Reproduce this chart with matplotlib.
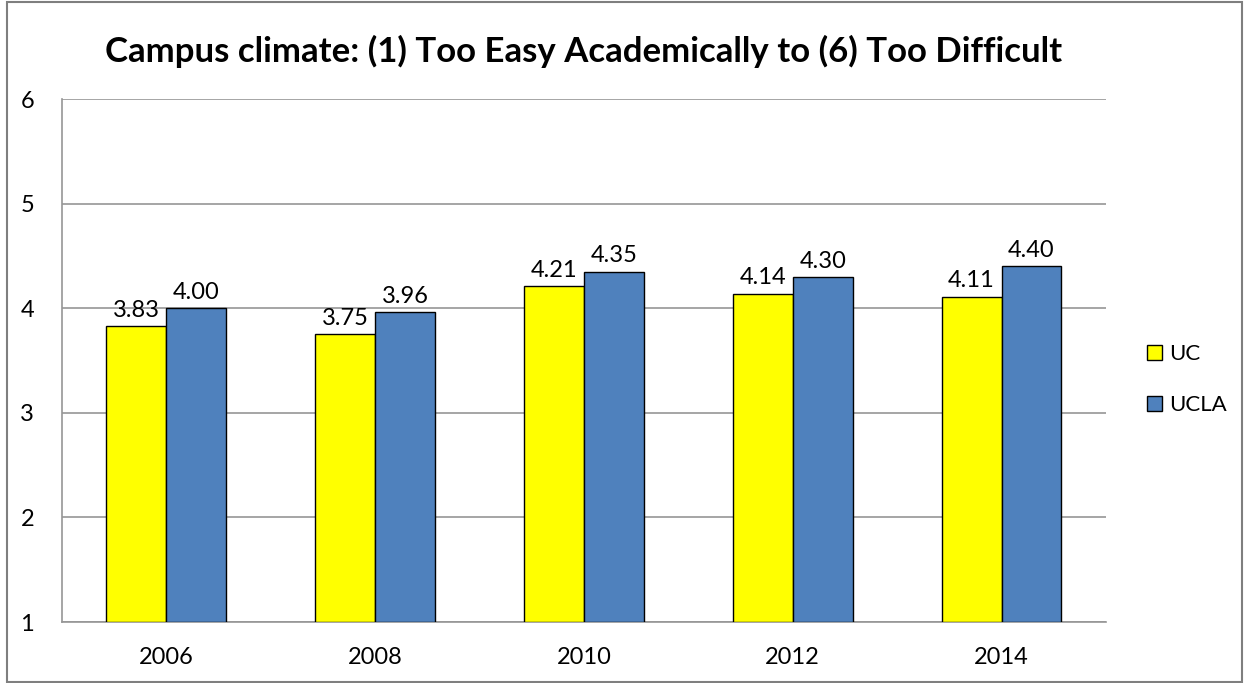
import matplotlib
matplotlib.use("Agg")
import matplotlib.pyplot as plt
import numpy as np
from matplotlib.patches import Rectangle

years = ["2006", "2008", "2010", "2012", "2014"]
uc = [3.83, 3.75, 4.21, 4.14, 4.11]
ucla = [4.00, 3.96, 4.35, 4.30, 4.40]
series = ["UC", "UCLA"]
colors = ["#FFFF00", "#4F81BD"]

plt.rcParams['font.family'] = ['Lato', 'DejaVu Sans']

fig = plt.figure(figsize=(12.44, 6.83), dpi=100)
ax = fig.add_axes([0.0498, 0.0893, 0.8392, 0.7657])

x = np.arange(len(years))
w = 0.287
bottom = 1
for vals, off, col, name in [(uc, -w / 2, colors[0], series[0]), (ucla, w / 2, colors[1], series[1])]:
    heights = [v - bottom for v in vals]
    ax.bar(x + off, heights, w, bottom=bottom, color=col, edgecolor="black",
           linewidth=1, label=name, zorder=3)
    for xi, v in zip(x + off, vals):
        ax.text(xi, v + 0.05, f"{v:.2f}", ha="center", va="bottom", fontsize=17)

ax.set_xlim(-0.5, len(years) - 0.5)
ax.set_ylim(1, 6)
ax.set_yticks(range(1, 7))
ax.set_xticks(x)
ax.set_xticklabels(years)
ax.tick_params(axis="both", length=0, labelsize=17)
ax.tick_params(axis="x", pad=18)
ax.tick_params(axis="y", pad=20)
ax.yaxis.grid(True, color="#969696", linewidth=1.2, zorder=0)
for s in ["top", "right"]:
    ax.spines[s].set_visible(False)
for s in ["left", "bottom"]:
    ax.spines[s].set_color("#969696")
    ax.spines[s].set_linewidth(1.2)

ax.set_title("Campus climate: (1) Too Easy Academically to (6) Too Difficult",
             fontsize=25, fontweight="bold", pad=27)

ax.legend(loc="center left", bbox_to_anchor=(1.02, 0.463), frameon=False, fontsize=16,
          handlelength=0.7, handleheight=0.7, handletextpad=0.3, labelspacing=1.4)

fig.patches.append(Rectangle((0.006, 0.002), 0.992, 0.995, transform=fig.transFigure,
                             fill=False, edgecolor="#7f7f7f", linewidth=1.5))

fig.savefig("out.png", dpi=100)
